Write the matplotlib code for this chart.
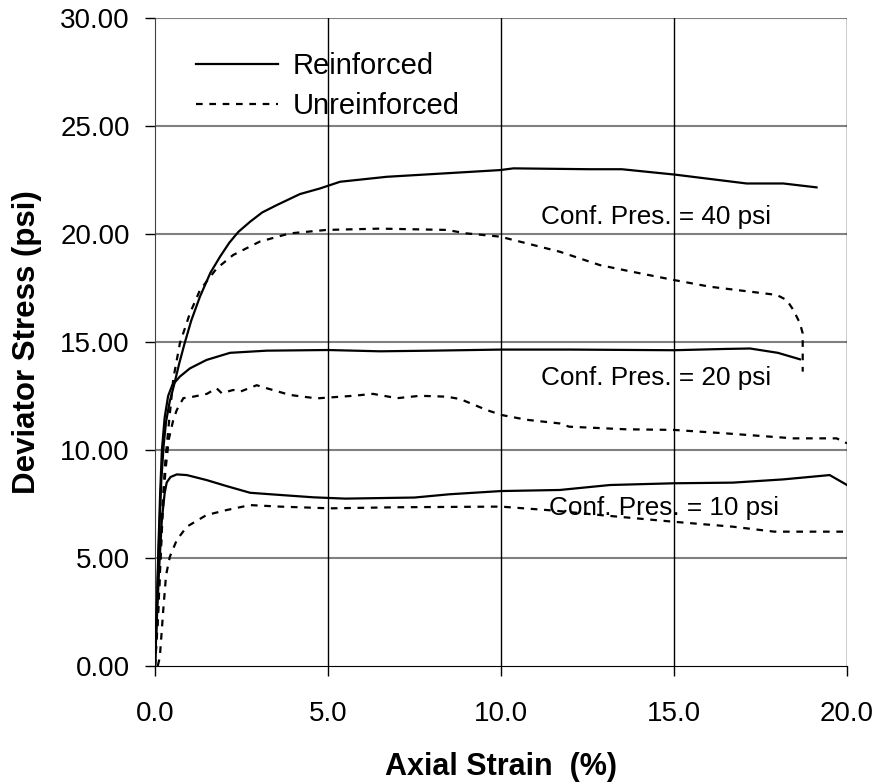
import matplotlib
matplotlib.use("Agg")
import matplotlib.pyplot as plt

plt.rcParams['font.family'] = ['Liberation Sans', 'DejaVu Sans']

# Reinforced, 10 psi
r10_x = [0, 0.05, 0.12, 0.2, 0.28, 0.34, 0.45, 0.63, 0.92, 1.49, 2.07, 2.75, 3.61, 4.58, 5.5, 7.5, 8.5, 10.0, 11.7, 13.15, 15.0, 16.7, 18.16, 19.5, 20.0]
r10_y = [0, 2.0, 4.5, 6.8, 8.0, 8.5, 8.75, 8.87, 8.84, 8.61, 8.33, 8.02, 7.92, 7.81, 7.75, 7.8, 7.95, 8.1, 8.15, 8.38, 8.46, 8.49, 8.64, 8.84, 8.38]
# Unreinforced, 10 psi
u10_x = [0.08, 0.14, 0.24, 0.32, 0.43, 0.63, 0.92, 1.49, 2.07, 2.75, 3.61, 5.06, 7.0, 10.0, 11.5, 12.86, 14.98, 16.7, 17.9, 19.0, 20.0]
u10_y = [0, 0.4, 2.6, 4.2, 5.06, 5.83, 6.45, 6.99, 7.22, 7.45, 7.38, 7.3, 7.35, 7.38, 7.2, 6.99, 6.68, 6.45, 6.22, 6.22, 6.22]
# Reinforced, 20 psi
r20_x = [0, 0.05, 0.1, 0.15, 0.2, 0.28, 0.38, 0.5, 0.72, 1.01, 1.49, 2.17, 3.23, 5.0, 6.5, 8.0, 10.0, 12.0, 15.0, 16.5, 17.2, 18.0, 18.64]
r20_y = [0, 2.5, 5.5, 8.0, 10.0, 11.5, 12.5, 13.0, 13.4, 13.78, 14.17, 14.5, 14.6, 14.63, 14.57, 14.6, 14.65, 14.65, 14.62, 14.68, 14.7, 14.5, 14.2]
# Unreinforced, 20 psi
u20_x = [0, 0.08, 0.15, 0.22, 0.3, 0.4, 0.53, 0.63, 0.82, 1.11, 1.5, 1.78, 1.93, 2.26, 2.46, 2.94, 3.23, 3.9, 4.67, 5.73, 6.3, 7.0, 7.66, 8.43, 8.82, 9.59, 10.02, 10.74, 11.7, 11.97, 13.6, 15.0, 16.5, 18.45, 19.7, 20.0]
u20_y = [0, 2.0, 4.5, 7.0, 9.0, 10.5, 11.4, 11.85, 12.4, 12.47, 12.6, 12.86, 12.63, 12.78, 12.7, 13.0, 12.86, 12.55, 12.39, 12.51, 12.6, 12.4, 12.51, 12.47, 12.36, 11.85, 11.62, 11.4, 11.23, 11.08, 10.96, 10.93, 10.77, 10.54, 10.54, 10.31]
# Reinforced, 40 psi
r40_x = [0, 0.06, 0.12, 0.18, 0.25, 0.32, 0.42, 0.55, 0.7, 0.85, 1.05, 1.3, 1.6, 1.88, 2.15, 2.41, 2.75, 3.1, 3.52, 4.19, 4.77, 5.35, 6.7, 8.5, 9.97, 10.36, 12.57, 13.49, 15.03, 17.1, 18.16, 19.12]
r40_y = [0, 3.0, 6.0, 8.5, 10.2, 11.3, 12.2, 13.0, 14.0, 14.9, 16.0, 17.1, 18.2, 18.95, 19.6, 20.1, 20.57, 21.0, 21.34, 21.85, 22.11, 22.42, 22.65, 22.82, 22.96, 23.04, 23.0, 23.0, 22.75, 22.34, 22.34, 22.16]
# Unreinforced, 40 psi
u40_x = [0, 0.08, 0.15, 0.22, 0.3, 0.4, 0.53, 0.72, 1.01, 1.3, 1.78, 2.26, 3.03, 3.9, 4.96, 6.5, 8.43, 9.0, 9.97, 10.74, 11.7, 12.86, 13.8, 15.0, 16.04, 17.97, 18.26, 18.45, 18.64, 18.72, 18.72]
u40_y = [0, 2.2, 4.8, 7.5, 9.5, 11.2, 13.3, 14.94, 16.33, 17.4, 18.4, 19.03, 19.65, 20.03, 20.19, 20.25, 20.19, 20.03, 19.88, 19.57, 19.18, 18.56, 18.25, 17.87, 17.56, 17.18, 16.94, 16.48, 15.87, 15.4, 13.63]

x_ticks = [0, 5, 10, 15, 20]
y_ticks = [0, 5, 10, 15, 20, 25, 30]
annotations = ["Conf. Pres. = 40 psi", "Conf. Pres. = 20 psi", "Conf. Pres. = 10 psi"]
ann_pos = [(11.16, 20.45), (11.16, 13.01), (11.39, 6.99)]

fig = plt.figure(figsize=(8.8, 7.84), dpi=100)
ax = fig.add_axes([0.1761, 0.1505, 0.9625 - 0.1761, 0.977 - 0.1505])
ax.set_xlim(0, 20)
ax.set_ylim(0, 30)

for y in y_ticks[1:]:
    ax.axhline(y, color='#808080', lw=1.5, zorder=1)
for x in x_ticks[1:]:
    ax.axvline(x, color='black', lw=1.0, zorder=1)

dash = (0, (3, 3))
ax.plot(r40_x, r40_y, color='black', lw=1.6, label='Reinforced', zorder=3)
ax.plot(u40_x, u40_y, color='black', lw=1.6, ls=dash, label='Unreinforced', zorder=3)
ax.plot(r20_x, r20_y, color='black', lw=1.6, zorder=3)
ax.plot(u20_x, u20_y, color='black', lw=1.6, ls=dash, zorder=3)
ax.plot(r10_x, r10_y, color='black', lw=1.6, zorder=3)
ax.plot(u10_x, u10_y, color='black', lw=1.6, ls=dash, zorder=3)

for txt, (tx, ty) in zip(annotations, ann_pos):
    ax.text(tx, ty, txt, fontsize=18.8, ha='left', va='baseline', zorder=4)

ax.set_xticks(x_ticks)
ax.set_xticklabels([f"{v:.1f}" for v in x_ticks])
ax.set_yticks(y_ticks)
ax.set_yticklabels([f"{v:.2f}" for v in y_ticks])
ax.tick_params(axis='both', direction='out', length=7.2, width=1, colors='black', labelsize=20)
ax.tick_params(axis='x', pad=18)
ax.tick_params(axis='y', pad=11)

for s in ['top', 'right']:
    ax.spines[s].set_visible(False)
ax.spines['left'].set_color('#404040')
ax.spines['bottom'].set_color('black')

ax.set_xlabel("Axial Strain  (%)", fontsize=22, fontweight='bold')
ax.set_ylabel("Deviator Stress (psi)", fontsize=22.5, fontweight='bold')
ax.xaxis.set_label_coords(0.5, -0.1327)
ax.yaxis.set_label_coords(-0.163, 0.5)

leg = ax.legend(loc='upper left', bbox_to_anchor=(0.0216, 0.988), frameon=False,
                fontsize=21, handlelength=2.8, handletextpad=0.51, labelspacing=0.41)

fig.savefig("out.png", dpi=100)
